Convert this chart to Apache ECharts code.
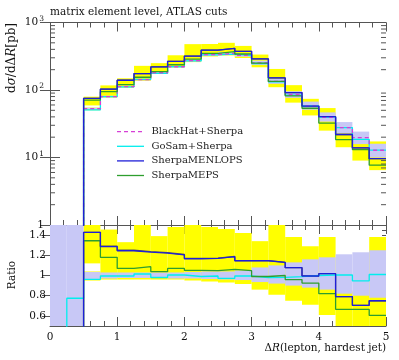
<!DOCTYPE html>
<html><head><meta charset="utf-8">
<script src="https://cdn.jsdelivr.net/npm/echarts@6/dist/echarts.min.js"></script>
<style>html,body{margin:0;padding:0;background:#fff}#c{width:399px;height:360px}</style>
</head><body><div id="c"></div>
<script>
// bin edges (0 .. 5, width 0.25)
const edges = [0,0.25,0.5,0.75,1.0,1.25,1.5,1.75,2.0,2.25,2.5,2.75,3.0,3.25,3.5,3.75,4.0,4.25,4.5,4.75,5.0];
const logTickLabels = [1,10,100,1000];
const logMinorTicks = [2,3,4,5,6,7,8,9,20,30,40,50,60,70,80,90,200,300,400,500,600,700,800,900];
const ratioTickLabels = [0.6,0.8,1,1.2,1.4];
const legendNames = ['BlackHat+Sherpa','GoSam+Sherpa','SherpaMENLOPS','SherpaMEPS'];

// top panel: dsigma/dDeltaR [pb]
const blackhat = [0.1,0.1,52.8,80,112,142,180,221,273,334,350,326,252,134,85,58,39.5,27.7,19.7,12.8];
const gosam    = [0.1,0.5,50.8,79.6,111.4,144,176.4,222,270,332,340,324,247,132,84,58,39.7,27.8,18.6,12.9];
const menlops  = [0.1,0.1,75.3,102.8,139.4,175,220,266,318,391,415,374,289,151,91.5,57.7,40.2,21.9,13.9,9.6];
const meps     = [0.1,0.1,71,94.4,119.8,154.4,186.8,236.5,286.7,350,371,341.6,249.5,134,81.6,53.7,32.4,18.4,13.1,7.7];
const refline  = [0.1,0.1,75.3,102.8,139.4,175,220,266,318,391,415,374,289,151,91.5,57.7,40.2,21.9,13.9,9.6];
const yelLo    = [null,null,59.1,76.8,107.5,136.3,172.8,212,259,314,325,298,217,110,65,42,25,14.2,9.0,6.5];
const yelHi    = [null,null,79.6,117,149,228,250,327,478,480,500,450,335,205,118,74,54,23.8,16.6,17.3];
const yel2Lo   = [null,null,50.2,null,null,null,null,null,null,null,null,null,null,null,null,null,null,null,null,null];
const yel2Hi   = [null,null,54.9,null,null,null,null,null,null,null,null,null,null,null,null,null,null,null,null,null];
const lavLo    = [null,null,51.0,77.6,109.2,138.5,175.5,214.4,264.8,322.3,336,311.3,235.6,123.3,76.5,51,34,22.7,15.8,10];
const lavHi    = [null,null,54.6,82.4,115.4,146.3,185.4,227.6,282.6,347.4,364,342.3,272.2,147.4,96,67.3,46.6,33.5,24.2,16];

// ratio panel
const rGosam   = [0,0.775,0.962,0.995,0.995,1.015,0.98,1.005,0.99,0.995,0.972,0.995,0.979,0.982,0.988,1.0,1.005,1.005,0.946,1.01];
const rMenlops = [0,0,1.427,1.285,1.245,1.232,1.222,1.205,1.166,1.17,1.186,1.146,1.146,1.13,1.077,0.995,1.018,0.79,0.705,0.75];
const rMeps    = [0,0,1.344,1.18,1.07,1.087,1.038,1.07,1.05,1.048,1.061,1.048,0.99,1.0,0.96,0.925,0.82,0.665,0.665,0.605];
const rRef     = [0,0,1.427,1.29,1.25,1.237,1.226,1.208,1.17,1.172,1.188,1.148,1.148,1.13,1.077,0.995,1.018,0.79,0.705,0.75];
const rYelLo   = [null,null,1.12,0.96,0.96,0.96,0.96,0.96,0.95,0.94,0.93,0.915,0.86,0.81,0.75,0.71,0.61,0.4,0.4,0.4];
const rYelHi   = [null,null,1.6,1.455,1.33,1.6,1.39,1.48,1.6,1.48,1.46,1.42,1.34,1.6,1.38,1.29,1.38,0.85,0.84,1.38];
const rYel2Lo  = [null,null,0.95,null,null,null,null,null,null,null,null,null,null,null,null,null,null,null,null,null];
const rYel2Hi  = [null,null,1.04,null,null,null,null,null,null,null,null,null,null,null,null,null,null,null,null,null];
const rLavLo   = [0.4,0.4,0.965,0.97,0.975,0.975,0.975,0.97,0.97,0.965,0.96,0.955,0.935,0.92,0.90,0.88,0.86,0.82,0.80,0.78];
const rLavHi   = [1.6,1.6,1.035,1.03,1.03,1.03,1.03,1.03,1.035,1.04,1.04,1.05,1.08,1.10,1.13,1.16,1.18,1.21,1.23,1.25];

const FONT = 'DejaVu Serif';
const FS = 10.5;
const C = {yellow:'#ffff00', lav:'#c8c8f6', magenta:'#d63fd6', cyan:'#00eeee', blue:'#1f1fd8', green:'#2e9e2e', gray:'#555555', frame:'#555555', text:'#111111'};
const legendColors = [C.magenta, C.cyan, C.blue, C.green];

function steps(vals){ const p=[]; vals.forEach((v,i)=>{ if(v==null) return; p.push([edges[i],v],[edges[i+1],v]); }); return p; }
function bands(lo,hi){ const d=[]; lo.forEach((l,i)=>{ if(l==null) return; d.push([edges[i],edges[i+1],l,hi[i]]); }); return d; }
function rectRender(color){
  return function(params, api){
    const a = api.coord([api.value(0), api.value(3)]);
    const b = api.coord([api.value(1), api.value(2)]);
    const cs = params.coordSys;
    const shape = echarts.graphic.clipRectByRect({x:a[0], y:a[1], width:b[0]-a[0], height:b[1]-a[1]}, {x:cs.x, y:cs.y, width:cs.width, height:cs.height});
    return shape && {type:'rect', shape: shape, style:{fill:color}};
  };
}
function bandSeries(lo,hi,color,xi,yi,z){
  return {type:'custom', xAxisIndex:xi, yAxisIndex:yi, z:z, silent:true, data:bands(lo,hi), renderItem:rectRender(color), encode:{x:[0,1], y:[2,3]}};
}
function stepSeries(name,vals,color,xi,yi,z,dash,w){
  return {type:'line', name:name, xAxisIndex:xi, yAxisIndex:yi, z:z, data:steps(vals), showSymbol:false, symbol:'none', clip:true, silent:true,
    lineStyle:{color:color, width:w||1.3, type: dash?[4,3]:'solid'}, itemStyle:{color:color}};
}

const xCommon = {type:'value', min:0, max:5, interval:1, splitLine:{show:false},
  axisLine:{show:true, lineStyle:{color:C.frame, width:1}},
  axisTick:{show:true, inside:true, length:9, lineStyle:{color:C.frame}},
  minorTick:{show:true, splitNumber:5, length:5, lineStyle:{color:C.frame}},
  axisLabel:{show:false}};

// legend drawn as graphic: rows
const legendRowsY = [131.7, 146.3, 160.9, 175.5];
const legendGraphic = [];
legendNames.forEach((n,i)=>{
  legendGraphic.push({type:'line', shape:{x1:117, y1:legendRowsY[i], x2:144, y2:legendRowsY[i]},
    style:{stroke:legendColors[i], lineWidth:1.3, lineDash: i===0?[4,3]:null}, z:100});
  legendGraphic.push({type:'text', x:151.5, y:legendRowsY[i], z:100,
    style:{text:n, font:'10px "'+FONT+'"', fill:'#222', align:'left', verticalAlign:'middle'}});
});

const chart = echarts.init(document.getElementById('c'), null, {renderer:'canvas'});
chart.setOption({
  animation:false,
  textStyle:{fontFamily:FONT},
  grid:[{left:50, top:22.5, width:336, height:202.5},{left:50, top:225, width:336, height:101}],
  xAxis:[
    Object.assign({}, xCommon, {gridIndex:0, position:'bottom'}),
    Object.assign({}, xCommon, {gridIndex:0, position:'top'}),
    Object.assign({}, xCommon, {gridIndex:1, position:'bottom', axisLabel:{show:true, margin:6, color:C.text, fontSize:FS, fontFamily:FONT}}),
    Object.assign({}, xCommon, {gridIndex:1, position:'top'})
  ],
  yAxis:[
    {type:'log', logBase:10, gridIndex:0, position:'left', min:1, max:1000, splitLine:{show:false},
     axisLine:{show:true, lineStyle:{color:C.frame}},
     axisTick:{show:true, inside:true, length:10, lineStyle:{color:C.frame}, customValues:logTickLabels},
     axisLabel:{show:true, margin:6, color:C.text, fontSize:FS, fontFamily:FONT, customValues:logTickLabels,
       formatter:function(v){ const e=Math.round(Math.log10(v)); return e===0?'1':'10{s|'+e+'}'; },
       rich:{s:{fontSize:7.5, fontFamily:FONT, color:C.text, verticalAlign:'top', padding:[0,0,7,1]}}}},
    {type:'log', logBase:10, gridIndex:0, position:'right', min:1, max:1000, splitLine:{show:false},
     axisLine:{show:true, lineStyle:{color:C.frame}},
     axisTick:{show:true, inside:true, length:10, lineStyle:{color:C.frame}, customValues:logTickLabels},
     axisLabel:{show:false}},
    {type:'value', gridIndex:1, position:'left', min:0.5, max:1.5, splitLine:{show:false},
     axisLine:{show:true, lineStyle:{color:C.frame}},
     axisTick:{show:true, inside:true, length:8, lineStyle:{color:C.frame}, customValues:ratioTickLabels},
     axisLabel:{show:true, margin:4, color:C.text, fontSize:FS, fontFamily:FONT, customValues:ratioTickLabels}},
    {type:'value', gridIndex:1, position:'right', min:0.5, max:1.5, splitLine:{show:false},
     axisLine:{show:true, lineStyle:{color:C.frame}},
     axisTick:{show:true, inside:true, length:8, lineStyle:{color:C.frame}, customValues:ratioTickLabels},
     axisLabel:{show:false}},
    {type:'value', gridIndex:1, position:'left', min:0.5, max:1.5, interval:0.05, splitLine:{show:false},
     axisLine:{show:false}, axisTick:{show:true, inside:true, length:4, lineStyle:{color:C.frame}}, axisLabel:{show:false}},
    {type:'value', gridIndex:1, position:'right', min:0.5, max:1.5, interval:0.05, splitLine:{show:false},
     axisLine:{show:false}, axisTick:{show:true, inside:true, length:4, lineStyle:{color:C.frame}}, axisLabel:{show:false}}
  ],
  series:[
    bandSeries(yelLo,yelHi,C.yellow,0,0,1),
    bandSeries(yel2Lo,yel2Hi,C.yellow,0,0,1),
    bandSeries(lavLo,lavHi,C.lav,0,0,2),
    {type:'custom', xAxisIndex:0, yAxisIndex:0, z:9, silent:true, data:logMinorTicks.map(v=>[0,v]), encode:{x:0,y:1},
     renderItem:function(params, api){
       const y = api.coord([0, api.value(1)])[1]; const cs = params.coordSys;
       return {type:'group', children:[
         {type:'line', shape:{x1:cs.x, y1:y, x2:cs.x+5, y2:y}, style:{stroke:C.frame, lineWidth:1}},
         {type:'line', shape:{x1:cs.x+cs.width-5, y1:y, x2:cs.x+cs.width, y2:y}, style:{stroke:C.frame, lineWidth:1}}]};
     }},
    stepSeries('ref',refline,C.gray,0,0,3,false,1.3),
    stepSeries('GoSam+Sherpa',gosam,C.cyan,0,0,4,false,1.3),
    stepSeries('BlackHat+Sherpa',blackhat,C.magenta,0,0,5,true,1.3),
    stepSeries('SherpaMEPS',meps,C.green,0,0,6,false,1.3),
    stepSeries('SherpaMENLOPS',menlops,C.blue,0,0,7,false,1.3),

    bandSeries(rYelLo,rYelHi,C.yellow,2,2,1),
    bandSeries(rYel2Lo,rYel2Hi,C.yellow,2,2,1),
    bandSeries(rLavLo,rLavHi,C.lav,2,2,2),
    stepSeries('ref',rRef,C.gray,2,2,3,false,1.3),
    stepSeries('GoSam+Sherpa',rGosam,C.cyan,2,2,4,false,1.3),
    stepSeries('SherpaMEPS',rMeps,C.green,2,2,6,false,1.3),
    stepSeries('SherpaMENLOPS',rMenlops,C.blue,2,2,7,false,1.3)
  ],
  graphic:[
    {type:'text', x:50, y:12, style:{text:'matrix element level, ATLAS cuts', font:'10.5px "'+FONT+'"', fill:C.text, verticalAlign:'middle', align:'left'}},
    {type:'text', x:12, y:23, rotation:Math.PI/2, style:{text:'{n|d}{i|σ}{n|/d}{n|Δ}{i|R}{n|[pb]}', align:'right', verticalAlign:'middle',
      rich:{n:{fontFamily:FONT, fontSize:12, fill:C.text}, i:{fontFamily:FONT, fontSize:12, fontStyle:'italic', fill:C.text}}}},
    {type:'text', x:12, y:275, rotation:Math.PI/2, style:{text:'Ratio', font:'10.5px "'+FONT+'"', fill:C.text, align:'center', verticalAlign:'middle'}},
    {type:'text', x:386, y:348, style:{text:'{n|Δ}{i|R}{n|(lepton, hardest jet)}', align:'right', verticalAlign:'middle',
      rich:{n:{fontFamily:FONT, fontSize:FS, fill:C.text}, i:{fontFamily:FONT, fontSize:FS, fontStyle:'italic', fill:C.text}}}}
  ].concat(legendGraphic)
});
</script></body></html>
